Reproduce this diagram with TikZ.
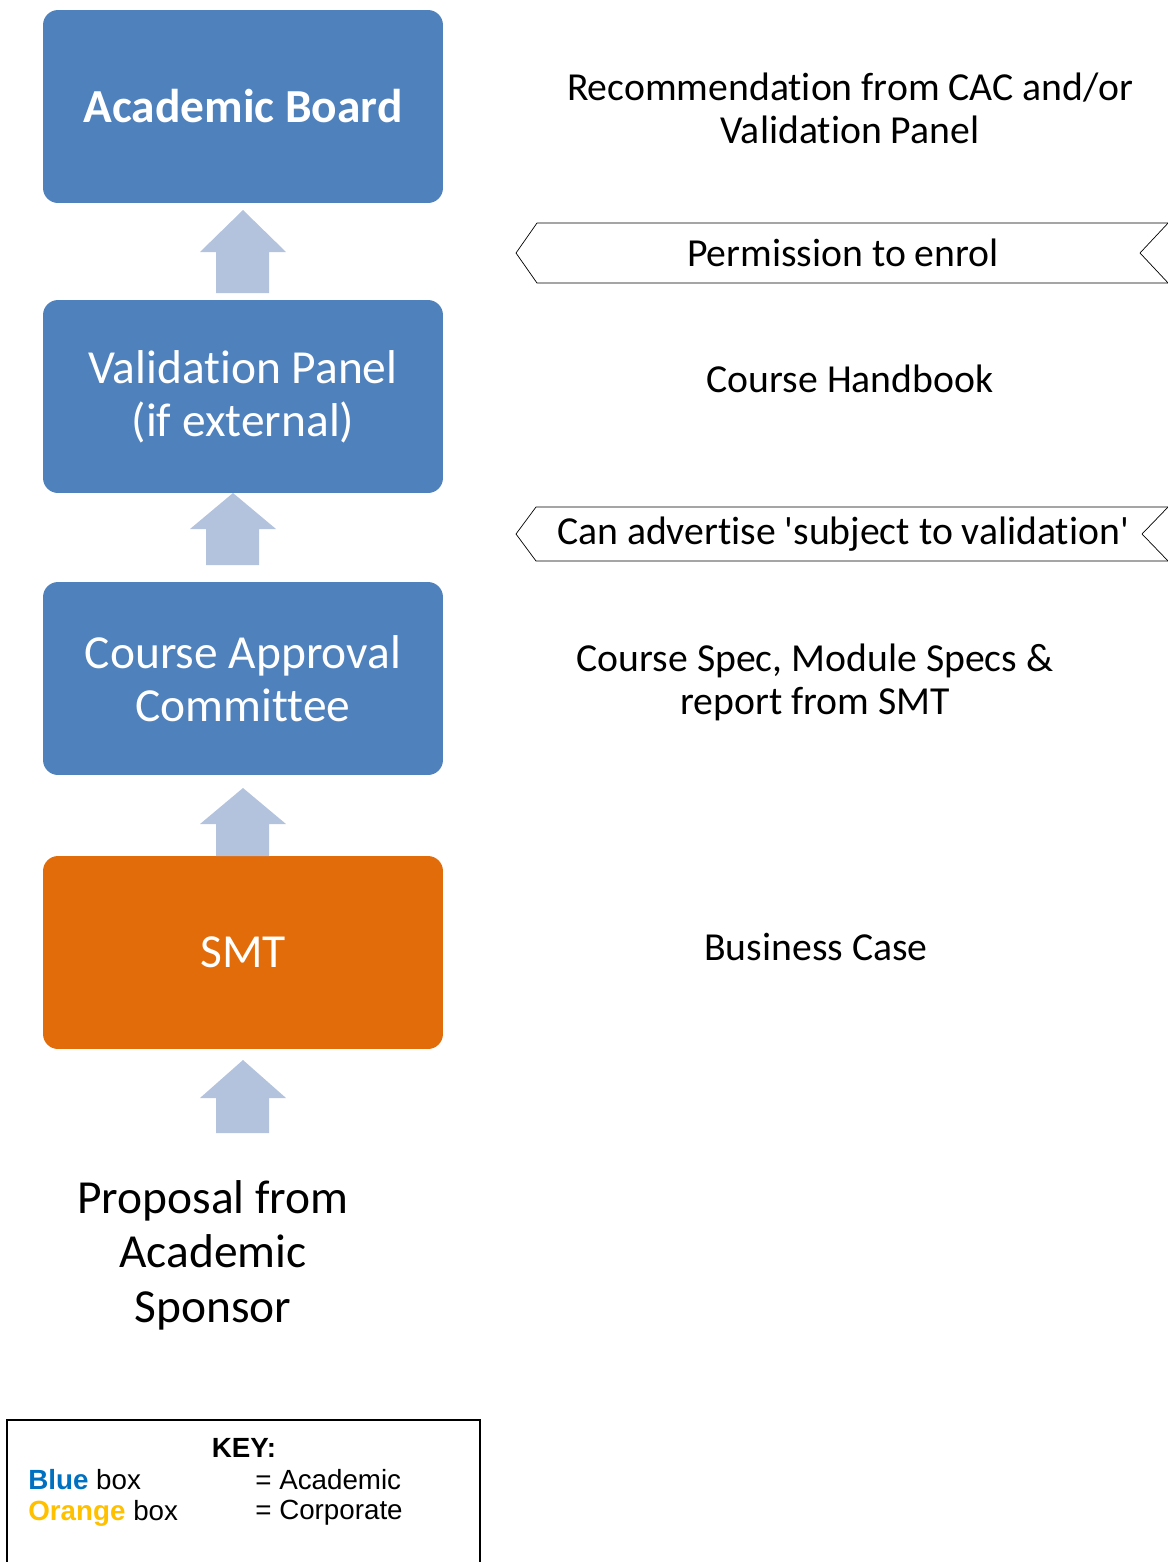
\documentclass[tikz,border=0pt]{standalone}
\usepackage{fontspec}
\setmainfont{Carlito}[Ligatures={NoCommon}]
\newfontfamily\keyfont{Liberation Sans}
\definecolor{boxblue}{HTML}{4F81BD}
\definecolor{boxorange}{HTML}{E36C0A}
\definecolor{arrowblue}{HTML}{B3C3DD}
\definecolor{keyblue}{HTML}{0070C0}
\definecolor{keyorange}{HTML}{FFC000}
\tikzset{
  stage/.style={rectangle, rounded corners=0.3cm, fill=boxblue, text=white,
    minimum width=8cm, minimum height=3.86cm, align=center,
    font=\fontsize{27}{30}\selectfont},
  doc/.style={align=center, font=\fontsize{22.6}{24.4}\selectfont},
  keytext/.style={anchor=west, inner sep=0pt, font=\keyfont\fontsize{15.8}{18.7}\selectfont}
}
\begin{document}
\begin{tikzpicture}[x=0.02cm,y=-0.02cm]
	\useasboundingbox (0,0) rectangle (1168,1562);
	% stages
	\node[stage, font=\bfseries\fontsize{27}{30}\selectfont] (board) at (243,106.5) {Academic Board};
	\node[stage] (panel) at (243,396.5) {Validation Panel\\(if external)};
	\node[stage] (cac) at (243,678.5) {Course Approval\\Committee};
	\node[stage, fill=boxorange] (smt) at (243,952.5) {SMT};
	\node[align=center, font=\fontsize{27}{31}\selectfont] (proposal) at (213,1255) {Proposal from\\Academic\\Sponsor};
	% block arrows
	\foreach \x/\t/\h/\b in {243/210/252/293, 233/493/529/565, 243/788/824/856, 243/1060/1098/1133}
		\fill[arrowblue] (\x,\t) -- (\x+43,\h) -- (\x+26,\h) -- (\x+26,\b) -- (\x-27,\b) -- (\x-27,\h) -- (\x-43,\h) -- cycle;
	% documents
	\node[doc] (recommend) at (850,108) {Recommendation from CAC and/or\\Validation Panel};
	\node[doc] (enrol) at (843,253) {Permission to enrol};
	\node[doc] (handbook) at (850,379) {Course Handbook};
	\node[doc] (advertise) at (843,534) {Can advertise \textquotesingle subject to validation\textquotesingle};
	\node[doc] (specs) at (815,682) {Course Spec, Module Specs \&\\report from SMT};
	\node[doc] (business) at (816,947) {Business Case};
	% banners
	\draw[line join=miter] (1180,223) -- (537,223) -- (516,253) -- (537,283) -- (1180,283);
	\draw (1170,221) -- (1140,253) -- (1170,285);
	\draw[line join=miter] (1180,507) -- (536,507) -- (516,534) -- (536,561) -- (1180,561);
	\draw (1170,505) -- (1142,534) -- (1170,563);
	% key
	\draw[line width=1.2pt] (7,1600) -- (7,1420) -- (480,1420) -- (480,1600);
	\node[keytext, anchor=center, font=\keyfont\bfseries\fontsize{15.8}{18.7}\selectfont] (keytitle) at (244,1448) {KEY:};
	\node[keytext] (blue) at (28,1480) {\textcolor{keyblue}{\bfseries Blue} box};
	\node[keytext] (academic) at (255,1480) {= Academic};
	\node[keytext] (orange) at (28,1513) {\textcolor{keyorange}{\bfseries Orange} box};
	\node[keytext] (corporate) at (255,1513) {= Corporate};
\end{tikzpicture}
\end{document}
